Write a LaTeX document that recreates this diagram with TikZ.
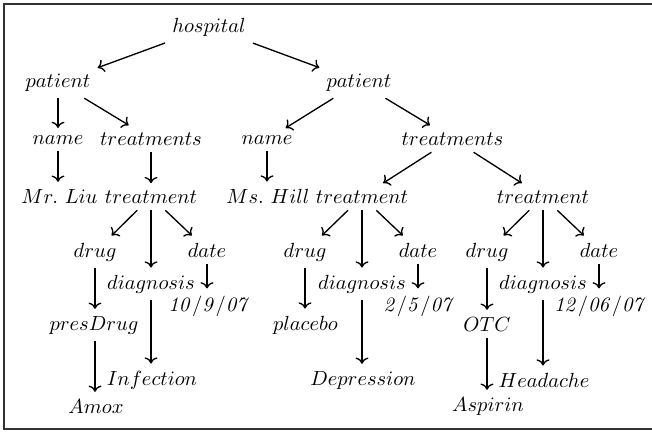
\documentclass[tikz,border=0pt]{standalone}
\usetikzlibrary{arrows.meta}
\begin{document}
\begin{tikzpicture}[x=0.488pt,y=-0.488pt,
  lbl/.style={anchor=base},
  edge/.style={->,line width=0.65pt,black}]
\useasboundingbox (0,0) rectangle (652,431);
\draw[line width=0.75pt,black!80] (4,4) rectangle (660,429);
% level 0
\node[lbl] (hosp) at (209,32) {$hospital$};
% level 1
\node[lbl] (patL) at (58,87) {$patient$};
\node[lbl] (patR) at (359,87) {$patient$};
% level 2
\node[lbl] (nameL) at (58,144) {$name$};
\node[lbl] (trsL) at (151,145) {$treatments$};
\node[lbl] (nameR) at (267,144) {$name$};
\node[lbl] (trsR) at (452.5,145) {$treatments$};
% level 3
\node[lbl] (liu) at (59.5,203) {$Mr.\ Liu$};
\node[lbl] (trL) at (151,203) {$treatment$};
\node[lbl] (hill) at (268,203) {$Ms.\ Hill$};
\node[lbl] (trM) at (362,203) {$treatment$};
\node[lbl] (trR) at (543,203) {$treatment$};
% level 4: drug/date
\node[lbl] (drugL) at (95,257) {$drug$};
\node[lbl] (dateL) at (207,257) {$date$};
\node[lbl] (drugM) at (305,257) {$drug$};
\node[lbl] (dateM) at (418,257) {$date$};
\node[lbl] (drugR) at (487,257) {$drug$};
\node[lbl] (dateR) at (599,257) {$date$};
% diagnosis
\node[lbl] (diaL) at (151,289) {$diagnosis$};
\node[lbl] (diaM) at (362,289) {$diagnosis$};
\node[lbl] (diaR) at (543,289) {$diagnosis$};
% dates
\node[lbl] (dL) at (209,311) {$\mathit{10/9/07}$};
\node[lbl] (dM) at (419,311) {$\mathit{2/5/07}$};
\node[lbl] (dR) at (600,311) {$\mathit{12/06/07}$};
% drug kinds
\node[lbl] (pres) at (94,330) {$presDrug$};
\node[lbl] (plac) at (305.5,330) {$placebo$};
\node[lbl] (otc) at (487,331) {$OTC$};
% diagnoses
\node[lbl] (inf) at (152,385) {$Infection$};
\node[lbl] (dep) at (363,385) {$Depression$};
\node[lbl] (head) at (544,387) {$Headache$};
% drug names
\node[lbl] (amox) at (96,413) {$Amox$};
\node[lbl] (asp) at (488,411) {$Aspirin$};
% slanted edges
\draw[edge] (hosp) -- (patL);
\draw[edge] (hosp) -- (patR);
\draw[edge] (patL) -- (trsL);
\draw[edge] (patR) -- (nameR);
\draw[edge] (patR) -- (trsR);
\draw[edge] (trsR) -- (trM);
\draw[edge] (trsR) -- (trR);
\draw[edge] (trL) -- (drugL);
\draw[edge] (trL) -- (dateL);
\draw[edge] (trM) -- (drugM);
\draw[edge] (trM) -- (dateM);
\draw[edge] (trR) -- (drugR);
\draw[edge] (trR) -- (dateR);
% vertical edges
\draw[edge] (patL) -- (patL |- nameL.north);
\draw[edge] (nameL) -- (nameL |- liu.north);
\draw[edge] (trsL) -- (trsL |- trL.north);
\draw[edge] (nameR) -- (nameR |- hill.north);
\draw[edge] (trL) -- (trL |- diaL.north);
\draw[edge] (trM) -- (trM |- diaM.north);
\draw[edge] (trR) -- (trR |- diaR.north);
\draw[edge] (drugL) -- (drugL |- pres.north);
\draw[edge] (drugM) -- (drugM |- plac.north);
\draw[edge] (drugR) -- (drugR |- otc.north);
\draw[edge] (dateL) -- (dateL |- dL.north);
\draw[edge] (dateM) -- (dateM |- dM.north);
\draw[edge] (dateR) -- (dateR |- dR.north);
\draw[edge] (diaL) -- (diaL |- inf.north);
\draw[edge] (diaM) -- (diaM |- dep.north);
\draw[edge] (diaR) -- (diaR |- head.north);
\draw[edge] (drugL |- pres.south) -- (drugL |- amox.north);
\draw[edge] (otc) -- (otc |- asp.north);
\end{tikzpicture}
\end{document}
